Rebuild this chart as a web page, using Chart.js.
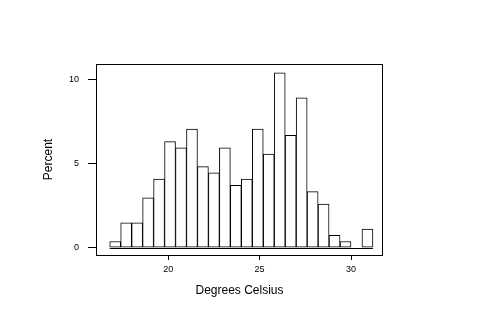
<!DOCTYPE html>
<html>
<head>
<meta charset="utf-8">
<script src="https://cdn.jsdelivr.net/npm/chart.js@4/dist/chart.umd.min.js"></script>
<style>
  body { margin: 0; background: #fff; }
  canvas { display: block; }
</style>
</head>
<body>
<canvas id="chart" width="480" height="320"></canvas>
<script>
'use strict';

// histogram bins, 0.6 degrees wide from 16.8 to 31.2 (midpoints)
var binMids = [17.1, 17.7, 18.3, 18.9, 19.5, 20.1, 20.7, 21.3, 21.9, 22.5, 23.1, 23.7,
  24.3, 24.9, 25.5, 26.1, 26.7, 27.3, 27.9, 28.5, 29.1, 29.7, 30.3, 30.9];

// percent of observations in each bin
var percents = [0.37, 1.48, 1.48, 2.96, 4.07, 6.30, 5.93, 7.04, 4.81, 4.44, 5.93, 3.70,
  4.07, 7.04, 5.56, 10.37, 6.67, 8.89, 3.33, 2.59, 0.74, 0.37, 0, 1.11];

var binWidth = 0.6;

// tick labels
var xTicks = [20, 25, 30];
var yTicks = [0, 5, 10];

var fontFamily = '"Liberation Sans", Arial, sans-serif';

//frame round the plot area and the baseline under the bars
var framePlugin = {
  id: 'frame',
  afterDatasetsDraw: function(chart){
    var ctx = chart.ctx;
    var xs = chart.scales.x;
    var ys = chart.scales.y;
    var y0 = Math.round(ys.getPixelForValue(0)) + 0.5;
    ctx.save();
    ctx.strokeStyle = '#000';
    ctx.lineWidth = 1;
    ctx.beginPath();
    ctx.moveTo(xs.getPixelForValue(binMids[0] - binWidth / 2), y0);
    ctx.lineTo(xs.getPixelForValue(binMids[binMids.length - 1] + binWidth / 2), y0);
    ctx.stroke();
    ctx.restore();
  },
  afterDraw: function(chart){
    var a = chart.chartArea;
    var ctx = chart.ctx;
    ctx.save();
    ctx.strokeStyle = '#000';
    ctx.lineWidth = 1;
    ctx.strokeRect(Math.round(a.left) + 0.5, Math.round(a.top) + 0.5,
      Math.round(a.right - a.left) - 1, Math.round(a.bottom - a.top));
    ctx.restore();
  }
};

var points = [];
for (var i = 0; i < binMids.length; i++){
  points.push({x: binMids[i], y: percents[i]});
}

var ctx = document.getElementById('chart').getContext('2d');
new Chart(ctx, {
  type: 'bar',
  data: {
    datasets: [{
      data: points,
      backgroundColor: '#ffffff',
      borderColor: '#000000',
      borderWidth: 1,
      borderSkipped: false,
      barPercentage: 1,
      categoryPercentage: 1
    }]
  },
  options: {
    responsive: false,
    animation: false,
    devicePixelRatio: 1,
    layout: {padding: {left: 0, right: 97, top: 64, bottom: 0}},
    plugins: {legend: {display: false}, tooltip: {enabled: false}},
    scales: {
      x: {
        type: 'linear',
        min: 16.05,
        max: 31.75,
        offset: false,
        afterBuildTicks: function(s){ s.ticks = xTicks.map(function(v){ return {value: v}; }); },
        afterFit: function(s){ s.height = 65; },
        ticks: {color: '#000', font: {family: fontFamily, size: 9}, padding: 4, maxRotation: 0},
        grid: {display: true, offset: false, drawOnChartArea: false, drawTicks: true, tickLength: 5, tickColor: '#000'},
        border: {display: false},
        title: {display: true, text: 'Degrees Celsius', color: '#000',
          font: {family: fontFamily, size: 12}, padding: {top: 0, bottom: 22}}
      },
      y: {
        min: -0.43,
        max: 10.9,
        afterBuildTicks: function(s){ s.ticks = yTicks.map(function(v){ return {value: v}; }); },
        afterFit: function(s){ s.width = 96; },
        ticks: {color: '#000', font: {family: fontFamily, size: 9}, padding: 9},
        grid: {display: true, offset: false, drawOnChartArea: false, drawTicks: true, tickLength: 8, tickColor: '#000'},
        border: {display: false},
        title: {display: true, text: 'Percent', color: '#000',
          font: {family: fontFamily, size: 12}, padding: {top: 41, bottom: 0}}
      }
    }
  },
  plugins: [framePlugin]
});
</script>
</body>
</html>
